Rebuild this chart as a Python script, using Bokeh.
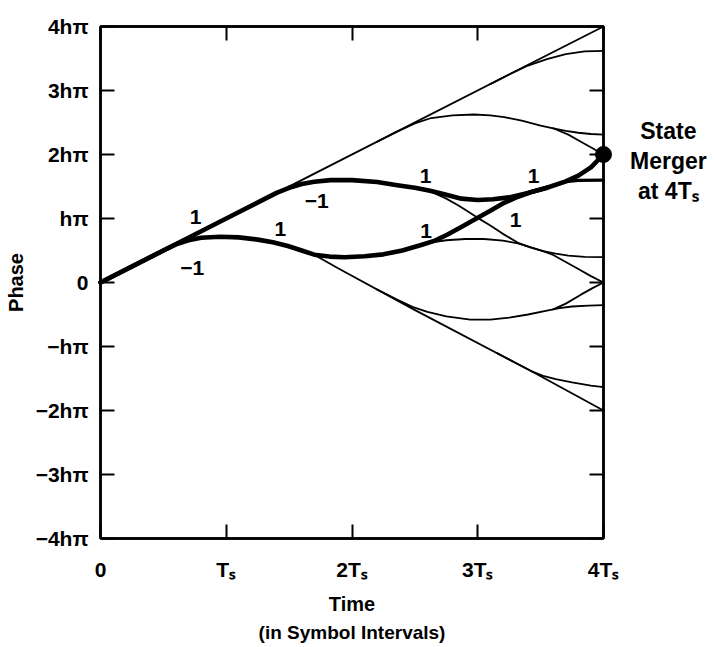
from bokeh.plotting import figure
from bokeh.models import Range1d, FixedTicker, LinearAxis, Label
from bokeh.embed import file_html
from bokeh.resources import INLINE
from bokeh.core.properties import value

# ---------------- data (time in symbol intervals Ts, phase in units of h*pi) ----------------
x_ticks = [0, 1, 2, 3, 4]
x_tick_labels = ["0", "Tₛ", "2Tₛ", "3Tₛ", "4Tₛ"]
y_ticks = [-4, -3, -2, -1, 0, 1, 2, 3, 4]
y_tick_labels = ["−4hπ", "−3hπ", "−2hπ", "−hπ", "0", "hπ", "2hπ", "3hπ", "4hπ"]

# thick path A (upper survivor)
path_a_t = [0, 0.5, 1.0, 1.4, 1.5, 1.6, 1.7, 1.83, 2.0, 2.2, 2.36, 2.5, 2.63, 2.75, 2.87,
            3.0, 3.12, 3.25, 3.4, 3.55, 3.7, 3.8, 3.9, 4.0]
path_a_p = [0, 0.5, 1.0, 1.4, 1.48, 1.54, 1.575, 1.6, 1.6, 1.57, 1.52, 1.48, 1.43, 1.37, 1.31,
            1.29, 1.30, 1.33, 1.40, 1.48, 1.58, 1.67, 1.80, 2.0]
# thick path B (lower survivor) until it joins path A
path_b_t = [0, 0.5, 0.6, 0.7, 0.8, 0.95, 1.1, 1.25, 1.37, 1.49, 1.6, 1.7, 1.82, 1.94, 2.1,
            2.25, 2.4, 2.55, 2.66, 2.76, 2.88, 3.0, 3.1, 3.21, 3.32, 3.42, 3.55]
path_b_p = [0, 0.5, 0.595, 0.66, 0.70, 0.715, 0.705, 0.67, 0.63, 0.57, 0.50, 0.435, 0.405,
            0.395, 0.41, 0.44, 0.50, 0.585, 0.655, 0.75, 0.88, 1.01, 1.12, 1.245, 1.34, 1.41, 1.48]
# thick flat branch leaving the merged path
flat_thick_t = [3.6, 3.7, 3.8, 4.0]
flat_thick_p = [1.51, 1.575, 1.595, 1.60]

# thin trajectories
top_line_t = [0, 4]
top_line_p = [0, 4]
top_branch_t = [3.1, 3.25, 3.4, 3.55, 3.7, 3.85, 4.0]
top_branch_p = [3.1, 3.25, 3.39, 3.49, 3.57, 3.61, 3.62]
upper_lens_t = [2.2, 2.35, 2.5, 2.63, 2.8, 2.97, 3.1, 3.21, 3.35, 3.5, 3.6, 3.7, 3.8, 3.9, 4.0]
upper_lens_p = [2.2, 2.35, 2.485, 2.57, 2.61, 2.625, 2.61, 2.585, 2.53, 2.45, 2.41, 2.37,
                2.34, 2.32, 2.31]
upper_drop_t = [3.6, 3.72, 3.82, 3.92, 4.0]
upper_drop_p = [2.41, 2.31, 2.20, 2.09, 2.0]
cross_line_t = [2.55, 2.65, 2.75, 2.85, 3.0, 3.1, 3.2, 3.32, 3.42, 3.52, 3.6, 3.7, 3.8, 3.9, 4.0]
cross_line_p = [1.465, 1.40, 1.31, 1.20, 1.01, 0.89, 0.76, 0.62, 0.55, 0.49, 0.43, 0.32,
                0.21, 0.10, 0.0]
mid_lens_t = [2.55, 2.65, 2.75, 2.9, 3.05, 3.2, 3.32, 3.42, 3.52, 3.62, 3.72, 3.85, 4.0]
mid_lens_p = [0.585, 0.63, 0.66, 0.68, 0.68, 0.655, 0.61, 0.55, 0.49, 0.45, 0.42, 0.40, 0.395]
low_line_t = [1.6, 1.72, 1.9, 2.49, 3.42, 4.0]
low_line_p = [0.50, 0.41, 0.21, -0.42, -1.38, -2.0]
low_lens_t = [2.2, 2.35, 2.48, 2.6, 2.75, 2.94, 3.1, 3.25, 3.4, 3.55, 3.65, 3.75, 3.88, 4.0]
low_lens_p = [-0.11, -0.26, -0.38, -0.46, -0.53, -0.58, -0.58, -0.55, -0.50, -0.44, -0.40,
              -0.375, -0.36, -0.355]
low_rise_t = [3.6, 3.7, 3.82, 3.92, 4.0]
low_rise_p = [-0.42, -0.33, -0.19, -0.08, 0.0]
bottom_branch_t = [3.15, 3.3, 3.42, 3.52, 3.62, 3.75, 3.9, 4.0]
bottom_branch_p = [-1.10, -1.255, -1.38, -1.46, -1.51, -1.56, -1.61, -1.635]

merge_t = [4.0]
merge_p = [2.0]

branch_label_text = ["1", "−1", "1", "−1", "1", "1", "1", "1"]
branch_label_t = [0.756, 0.73, 1.43, 1.72, 2.585, 2.59, 3.445, 3.30]
branch_label_p = [1.016, 0.22, 0.84, 1.27, 1.67, 0.81, 1.67, 0.98]

merger_note = ["State", "Merger", "at 4Tₛ"]
x_note = "(in Symbol Intervals)"

# ---------------- figure ----------------
FONT = "Liberation Sans"
p = figure(width=712, height=645, x_range=Range1d(0, 4), y_range=Range1d(-4, 4),
           output_backend="svg", toolbar_location=None,
           min_border_left=100, min_border_right=109, min_border_top=26, min_border_bottom=107)
p.grid.visible = False
p.outline_line_color = "black"
p.outline_line_width = 2.5
p.background_fill_color = "white"
p.border_fill_color = "white"


def style_axis(ax, show_labels=True):
    ax.axis_line_width = 2.5
    ax.axis_line_color = "black"
    ax.major_tick_in = 14
    ax.major_tick_out = 0
    ax.major_tick_line_width = 2
    ax.major_tick_line_color = "black"
    ax.minor_tick_line_color = None
    ax.major_label_text_font = FONT
    ax.major_label_text_font_style = "bold"
    if show_labels:
        ax.major_label_text_color = "black"
        ax.major_label_text_font_size = "21px"
    else:
        ax.major_label_text_color = None
        ax.major_label_text_font_size = "0px"
        ax.major_label_standoff = 0


xa = p.xaxis[0]
xa.ticker = FixedTicker(ticks=x_ticks)
xa.major_label_overrides = {t: s for t, s in zip(x_ticks, x_tick_labels)}
style_axis(xa)
xa.major_label_standoff = 19
xa.axis_label = "Time"
xa.axis_label_text_font = FONT
xa.axis_label_text_font_style = "bold"
xa.axis_label_text_font_size = "20px"
xa.axis_label_text_color = "black"
xa.axis_label_standoff = 9

ya = p.yaxis[0]
ya.ticker = FixedTicker(ticks=y_ticks)
ya.major_label_overrides = {t: s for t, s in zip(y_ticks, y_tick_labels)}
style_axis(ya)
ya.major_label_standoff = 12
ya.axis_label = "Phase"
ya.axis_label_text_font = FONT
ya.axis_label_text_font_style = "bold"
ya.axis_label_text_font_size = "20px"
ya.axis_label_text_color = "black"
ya.axis_label_standoff = 6

top_ax = LinearAxis(ticker=FixedTicker(ticks=x_ticks))
style_axis(top_ax, show_labels=False)
p.add_layout(top_ax, "above")
right_ax = LinearAxis(ticker=FixedTicker(ticks=y_ticks))
style_axis(right_ax, show_labels=False)
p.add_layout(right_ax, "right")

THIN = 1.8
THICK = 4.6
thin_curves = [
    (top_line_t, top_line_p), (top_branch_t, top_branch_p), (upper_lens_t, upper_lens_p),
    (upper_drop_t, upper_drop_p), (cross_line_t, cross_line_p), (mid_lens_t, mid_lens_p),
    (low_line_t, low_line_p), (low_lens_t, low_lens_p), (low_rise_t, low_rise_p),
    (bottom_branch_t, bottom_branch_p),
]
for xs, ys in thin_curves:
    p.line(xs, ys, line_color="black", line_width=THIN, line_join="round", line_cap="round",
           level="overlay")

for xs, ys, w in [(path_b_t, path_b_p, THICK), (path_a_t, path_a_p, THICK),
                  (flat_thick_t, flat_thick_p, 3.2)]:
    p.line(xs, ys, line_color="black", line_width=w, line_join="round", line_cap="round",
           level="overlay")

p.scatter(merge_t, merge_p, size=16, fill_color="black", line_color="black", level="overlay")

for s, t, ph in zip(branch_label_text, branch_label_t, branch_label_p):
    p.add_layout(Label(x=t, y=ph, text=s, text_font=FONT, text_font_style="bold",
                       text_font_size="21px", text_align="center", text_baseline="middle",
                       text_color="black"))

# texts outside the frame: anchored on the merger point / bottom axis, shifted in pixels
p.text(x=[3.999] * 3, y=[merge_p[0]] * 3, text=merger_note, x_offset=65,
       y_offset=[-24, 6, 36], text_font=value(FONT), text_font_style="bold",
       text_font_size="23px", text_align="center", text_baseline="middle",
       text_color="black", level="overlay")
p.text(x=[2.0], y=[-3.999], text=[x_note], y_offset=94, text_font=value(FONT),
       text_font_style="bold", text_font_size="19px", text_align="center",
       text_baseline="middle", text_color="black", level="overlay")

open("out.html", "w").write(file_html(p, INLINE))
